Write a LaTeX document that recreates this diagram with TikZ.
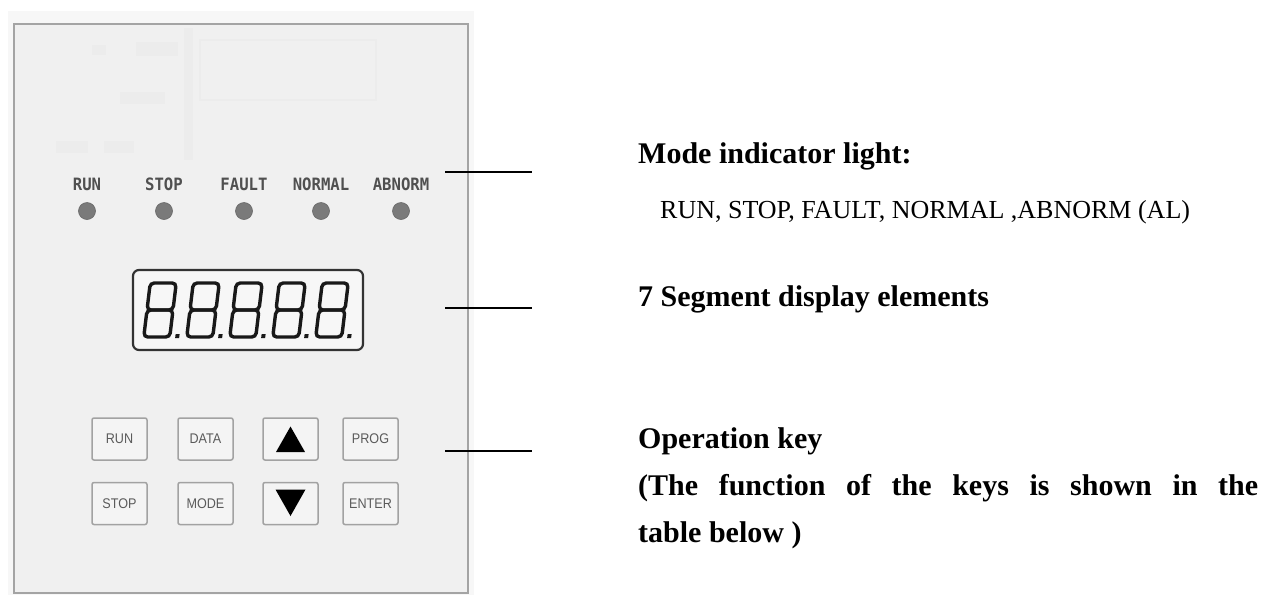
\documentclass[tikz,border=0pt]{standalone}
\usepackage{graphicx}
\usepackage{fontspec}
\setmainfont{Liberation Serif}
\newfontfamily\panelfont{Liberation Sans}
\newfontfamily\ledfont{DejaVu Sans Mono}
\usetikzlibrary{calc}
\definecolor{outerbg}{HTML}{F7F7F7}
\definecolor{panelbg}{HTML}{F0F0F0}
\definecolor{ghost}{HTML}{ECECEC}
\definecolor{paneledge}{HTML}{A4A4A4}
\definecolor{labelgray}{HTML}{505050}
\definecolor{ledgray}{HTML}{7A7A7A}
\definecolor{keyedge}{HTML}{A2A2A2}
\definecolor{keytext}{HTML}{5A5A5A}
\definecolor{dispbg}{HTML}{F7F7F7}
\newcommand{\sqz}[2]{\scalebox{#1}[1]{#2}}
\begin{document}
\begin{tikzpicture}[x=1pt,y=-1pt,
  ledlabel/.style={font=\ledfont\bfseries\fontsize{17}{17}\selectfont, text=labelgray, inner sep=0pt},
  ledlamp/.style={circle, minimum size=17pt, inner sep=0pt, fill=ledgray, draw=ledgray!85!black, line width=0.6pt},
  keybox/.style={rectangle, draw=keyedge, line width=1.5pt, fill=panelbg!70!white, rounded corners=2pt,
    minimum width=55pt, minimum height=42pt, inner sep=0pt, font=\panelfont\fontsize{14}{14}\selectfont, text=keytext},
  leader/.style={draw=black, line width=1.4pt},
  headtext/.style={anchor=base west, inner sep=0pt, font=\bfseries\fontsize{30}{30}\selectfont},
  bodytext/.style={anchor=base west, inner sep=0pt, font=\fontsize{26}{26}\selectfont},
  digitseg/.style={draw=black!90, line width=3.4pt, rounded corners=4pt}
]
\useasboundingbox (0,0) rectangle (1261,595);
\fill[white] (0,0) rectangle (1261,595);
% panel
\fill[outerbg] (8,11) rectangle (474,595);
\draw[paneledge, line width=2pt, fill=panelbg] (14,24) rectangle (468,593);
% faint background traces
\fill[ghost] (184,28) rectangle (193,160);
\draw[ghost, line width=1.5pt] (200,40) rectangle (376,100);
\fill[ghost] (136,42) rectangle (178,56);
\fill[ghost] (92,45) rectangle (106,55);
\fill[ghost] (120,92) rectangle (165,104);
\fill[ghost] (56,141) rectangle (88,153);
\fill[ghost] (104,141) rectangle (134,153);

% indicator lights
\foreach \x/\n/\t in {87/run/RUN, 164/stop/STOP, 244/fault/FAULT, 321/normal/NORMAL, 401/abnorm/ABNORM}{
  \node[ledlabel] (lbl-\n) at (\x,184) {\sqz{0.92}{\t}};
  \node[ledlamp] (led-\n) at (\x,211) {};
}

% display
\draw[line width=2.2pt, draw=black!80, fill=dispbg, rounded corners=6pt] (133,270) rectangle (363,350);
\node[inner sep=0pt, minimum width=230pt, minimum height=80pt] (display) at (248,310) {};
\foreach \i in {0,...,4}{
  \begin{scope}[shift={(160+43*\i,310)}, xslant=0.12]
    \draw[digitseg] (-13,-27) rectangle (13,0);
    \draw[digitseg] (-13,0) rectangle (13,27);
    \fill[black!90] (18.5,24) rectangle (22.5,28);
  \end{scope}
}

% keys
\node[keybox] (krun) at (119.5,439) {\sqz{0.9}{RUN}};
\node[keybox] (kdata) at (205.5,439) {\sqz{0.9}{DATA}};
\node[keybox] (kup) at (290.5,439) {};
\node[keybox] (kprog) at (370.5,439) {\sqz{0.9}{PROG}};
\node[keybox] (kstop) at (119.5,503.5) {\sqz{0.9}{STOP}};
\node[keybox] (kmode) at (205.5,503.5) {\sqz{0.9}{MODE}};
\node[keybox] (kdown) at (290.5,503.5) {};
\node[keybox] (kenter) at (370.5,503.5) {\sqz{0.9}{ENTER}};
\fill[black] ($(kup.center)+(-14.5,13)$) -- ($(kup.center)+(14.5,13)$) -- ($(kup.center)+(0,-12.5)$) -- cycle;
\fill[black] ($(kdown.center)+(-15,-14)$) -- ($(kdown.center)+(15,-14)$) -- ($(kdown.center)+(0,12.5)$) -- cycle;

% leader lines
\coordinate (la1) at (445,172);
\coordinate (la2) at (532,172);
\coordinate (lb1) at (445,308);
\coordinate (lb2) at (532,308);
\coordinate (lc1) at (445,451);
\coordinate (lc2) at (532,451);
\draw[leader] (la1) -- (la2);
\draw[leader] (lb1) -- (lb2);
\draw[leader] (lc1) -- (lc2);

% texts
\node[headtext] (modehead) at (638,163) {Mode indicator light:};
\node[bodytext] (modebody) at (660,218) {RUN, STOP, FAULT, NORMAL ,ABNORM (AL)};
\node[headtext] (seghead) at (638,306) {7 Segment display elements};
\node[headtext] (keyhead) at (638,448) {Operation key};
\node[headtext] (keybody1) at (638,495) {\makebox[620pt][s]{(The function of the keys is shown in the}};
\node[headtext] (keybody2) at (638,542) {table below )};
\end{tikzpicture}
\end{document}
